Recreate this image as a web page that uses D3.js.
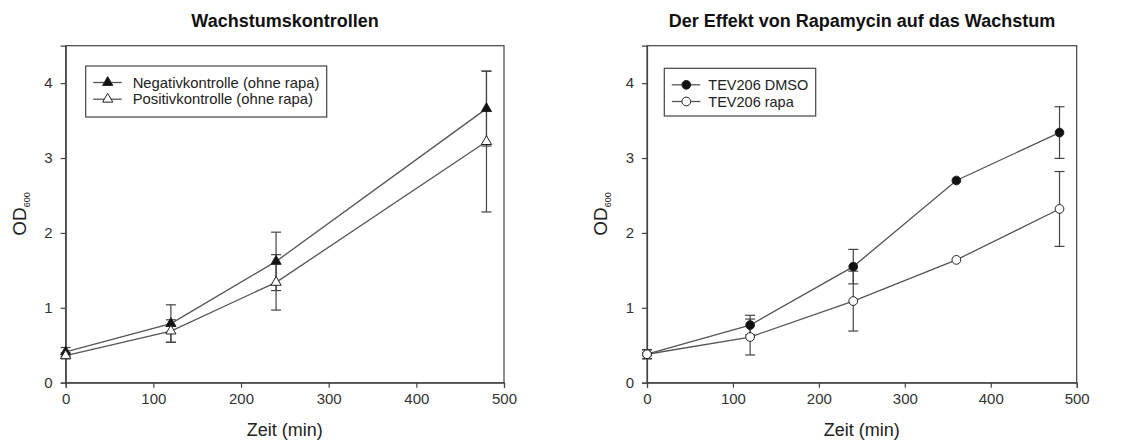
<!DOCTYPE html>
<html>
<head>
<meta charset="utf-8">
<script src="https://cdn.jsdelivr.net/npm/d3@7"></script>
<style>
  body { margin: 0; background: #fff; }
  svg { font-family: "Liberation Sans", Arial, sans-serif; }
  .axis path, .axis line { stroke: #444; stroke-width: 1.2; }
  .axis text { fill: #333; font-size: 15px; }
</style>
</head>
<body>
<div id="chart"></div>
<script>
// values
var xTicks = [0, 100, 200, 300, 400, 500];
var yTicks = [0, 1, 2, 3, 4];

var timeLeft = [0, 120, 240, 480];
var negMean = [0.41, 0.79, 1.62, 3.66];
var negErr  = [0.06, 0.25, 0.39, 0.50];
var posMean = [0.36, 0.69, 1.34, 3.22];
var posErr  = [0.04, 0.15, 0.37, 0.94];

var timeRight = [0, 120, 240, 360, 480];
var dmsoMean = [0.38, 0.77, 1.55, 2.70, 3.34];
var dmsoErr  = [0.06, 0.13, 0.23, 0, 0.345];
var rapaMean = [0.38, 0.61, 1.09, 1.64, 2.32];
var rapaErr  = [0.06, 0.24, 0.40, 0, 0.50];

var svgWidth = 1142, svgHeight = 441;
var plotTop = 45.7, plotBottom = 382.7;
var lineColor = '#555';

var svg = d3.select('#chart').append('svg')
    .attr('width', svgWidth)
    .attr('height', svgHeight);

function drawPanel(p) {
    var xScale = d3.scaleLinear().domain([0, 500]).range([p.left, p.right]);
    var yScale = d3.scaleLinear().domain([0, 4.5]).range([plotBottom, plotTop]);
    var g = svg.append('g');

    // frame
    g.append('rect')
        .attr('x', p.left).attr('y', plotTop)
        .attr('width', p.right - p.left).attr('height', plotBottom - plotTop)
        .attr('fill', 'none').attr('stroke', '#444').attr('stroke-width', 1.2);

    var xAxis = d3.axisBottom(xScale).tickValues(xTicks).tickSize(5).tickPadding(6);
    g.append('g').attr('class', 'axis')
        .attr('transform', 'translate(0,' + plotBottom + ')')
        .call(xAxis);

    var yAxis = d3.axisLeft(yScale).tickValues(yTicks).tickFormat(d3.format('d'))
        .tickSize(5).tickPadding(8);
    g.append('g').attr('class', 'axis')
        .attr('transform', 'translate(' + p.left + ',0)')
        .call(yAxis);

    // titles
    g.append('text')
        .attr('x', p.titleX).attr('y', 27)
        .attr('text-anchor', 'middle')
        .attr('font-size', 18).attr('font-weight', 'bold').attr('fill', '#111')
        .text(p.title);

    g.append('text')
        .attr('x', (p.left + p.right) / 2).attr('y', 436)
        .attr('text-anchor', 'middle')
        .attr('font-size', 18).attr('fill', '#222')
        .text('Zeit (min)');

    var yl = g.append('text')
        .attr('transform', 'translate(' + (p.left - 40) + ',' + 214 + ') rotate(-90)')
        .attr('text-anchor', 'middle')
        .attr('font-size', 19).attr('fill', '#222');
    yl.append('tspan').text('OD');
    yl.append('tspan').attr('font-size', 9).attr('dy', 4).text('600');

    var line = d3.line()
        .x(function (d) { return xScale(d[0]); })
        .y(function (d) { return yScale(d[1]); });

    p.series.forEach(function (s) {
        var pts = s.time.map(function (t, i) { return [t, s.mean[i], s.err[i]]; });

        g.append('path')
            .datum(pts)
            .attr('d', line)
            .attr('fill', 'none')
            .attr('stroke', lineColor)
            .attr('stroke-width', 1.3);

        // error bars
        var eb = g.append('g').selectAll('g')
            .data(pts.filter(function (d) { return d[2] > 0; }))
            .enter().append('g')
            .attr('stroke', '#444').attr('stroke-width', 1.2);
        eb.append('line')
            .attr('x1', function (d) { return xScale(d[0]); })
            .attr('x2', function (d) { return xScale(d[0]); })
            .attr('y1', function (d) { return yScale(d[1] - d[2]); })
            .attr('y2', function (d) { return yScale(d[1] + d[2]); });
        [-1, 1].forEach(function (sign) {
            eb.append('line')
                .attr('x1', function (d) { return xScale(d[0]) - 5; })
                .attr('x2', function (d) { return xScale(d[0]) + 5; })
                .attr('y1', function (d) { return yScale(d[1] + sign * d[2]); })
                .attr('y2', function (d) { return yScale(d[1] + sign * d[2]); });
        });
    });

    // markers on top
    p.series.forEach(function (s) {
        var pts = s.time.map(function (t, i) { return [t, s.mean[i]]; });
        g.append('g').selectAll('path')
            .data(pts)
            .enter().append('path')
            .attr('d', d3.symbol().type(s.symbol).size(s.size))
            .attr('transform', function (d) { return 'translate(' + xScale(d[0]) + ',' + yScale(d[1]) + ')'; })
            .attr('fill', s.fill)
            .attr('stroke', '#222')
            .attr('stroke-width', 1);
    });

    // legend
    var lg = g.append('g');
    lg.append('rect')
        .attr('x', p.legend.x).attr('y', p.legend.y)
        .attr('width', p.legend.w).attr('height', p.legend.h)
        .attr('fill', '#fff').attr('stroke', '#444').attr('stroke-width', 1.2);
    p.series.forEach(function (s, i) {
        var ly = p.legend.y + 16.5 + i * 16.7;
        var lx = p.legend.x + 7.5;
        lg.append('line')
            .attr('x1', lx).attr('x2', lx + 28.5)
            .attr('y1', ly).attr('y2', ly)
            .attr('stroke', lineColor).attr('stroke-width', 1.3);
        lg.append('path')
            .attr('d', d3.symbol().type(s.symbol).size(s.size))
            .attr('transform', 'translate(' + (lx + 14.5) + ',' + ly + ')')
            .attr('fill', s.fill).attr('stroke', '#222').attr('stroke-width', 1);
        lg.append('text')
            .attr('x', lx + p.legend.textOff).attr('y', ly + 5)
            .attr('font-size', p.legend.fs).attr('fill', '#222')
            .text(s.name);
    });
}

drawPanel({
    left: 65.7, right: 504, titleX: 285,
    title: 'Wachstumskontrollen',
    legend: { x: 85.7, y: 66, w: 241, h: 51, textOff: 39.5, fs: 14.8 },
    series: [
        { name: 'Negativkontrolle (ohne rapa)', time: timeLeft, mean: negMean, err: negErr,
          symbol: d3.symbolTriangle, size: 45, fill: '#111' },
        { name: 'Positivkontrolle (ohne rapa)', time: timeLeft, mean: posMean, err: posErr,
          symbol: d3.symbolTriangle, size: 45, fill: '#fff' }
    ]
});

drawPanel({
    left: 647, right: 1076.7, titleX: 862,
    title: 'Der Effekt von Rapamycin auf das Wachstum',
    legend: { x: 664.3, y: 68.3, w: 151.4, h: 47.7, textOff: 36.5, fs: 14.5 },
    series: [
        { name: 'TEV206 DMSO', time: timeRight, mean: dmsoMean, err: dmsoErr,
          symbol: d3.symbolCircle, size: 60, fill: '#111' },
        { name: 'TEV206 rapa', time: timeRight, mean: rapaMean, err: rapaErr,
          symbol: d3.symbolCircle, size: 60, fill: '#fff' }
    ]
});
</script>
</body>
</html>
